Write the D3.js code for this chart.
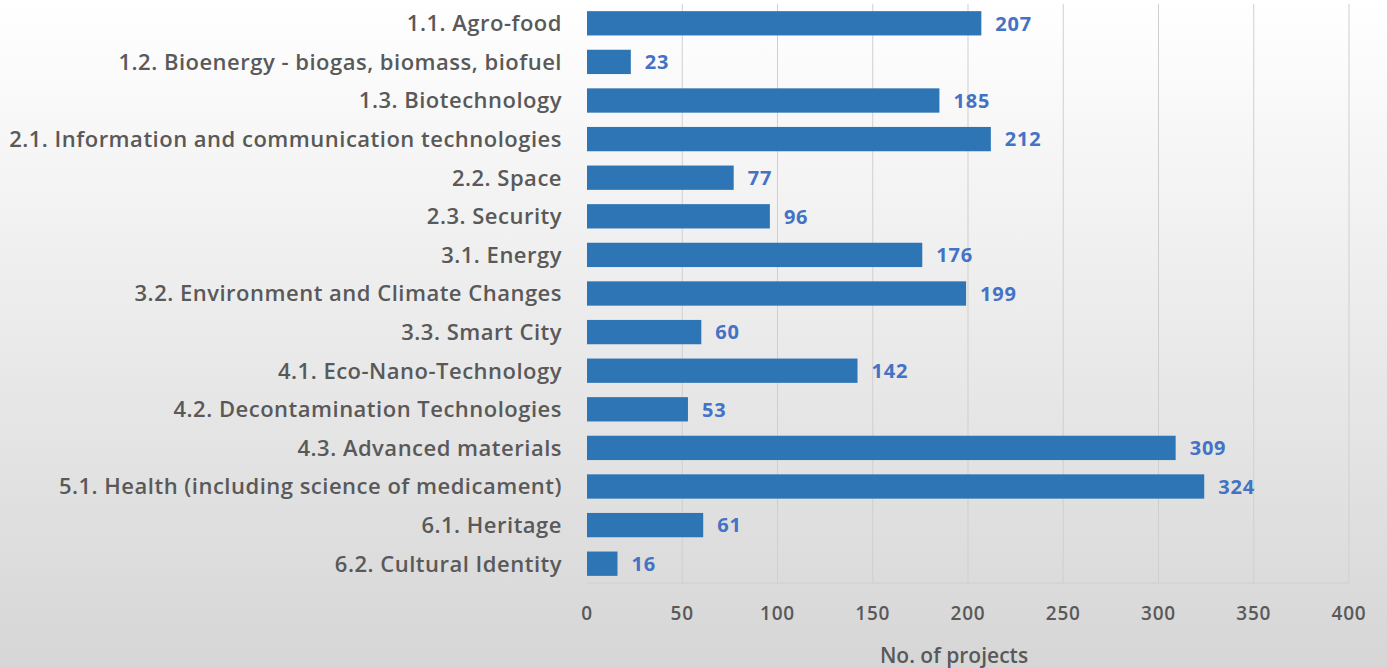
<!DOCTYPE html>
<html>
<head>
<meta charset="utf-8">
<script src="https://cdn.jsdelivr.net/npm/d3@7"></script>
<style>
  html, body { margin: 0; padding: 0; }
  body { width: 1387px; height: 668px; overflow: hidden; }
  text { font-family: "Open Sans", Lato, sans-serif; font-weight: 600; }
</style>
</head>
<body>
<div id="barChart"></div>
<script>
var categories = [
  "1.1. Agro-food",
  "1.2. Bioenergy - biogas, biomass, biofuel",
  "1.3. Biotechnology",
  "2.1. Information and communication technologies",
  "2.2. Space",
  "2.3. Security",
  "3.1. Energy",
  "3.2. Environment and Climate Changes",
  "3.3. Smart City",
  "4.1. Eco-Nano-Technology",
  "4.2. Decontamination Technologies",
  "4.3. Advanced materials",
  "5.1. Health (including science of medicament)",
  "6.1. Heritage",
  "6.2. Cultural Identity"
];
var projects = [207, 23, 185, 212, 77, 96, 176, 199, 60, 142, 53, 309, 324, 61, 16];
var xTicks = [0, 50, 100, 150, 200, 250, 300, 350, 400];
var xTitle = "No. of projects";

function drawBarChart(){
  var W = 1387, H = 668;
  var margin = {top: 4, right: 38, bottom: 85, left: 587},
    width = W - margin.left - margin.right,
    height = H - margin.top - margin.bottom;

  var root = d3.select("#barChart").append("svg")
      .attr("width", W)
      .attr("height", H);

  var grad = root.append("defs").append("linearGradient")
      .attr("id", "bg").attr("x1", 0).attr("y1", 0).attr("x2", 0).attr("y2", 1);
  grad.append("stop").attr("offset", "0%").attr("stop-color", "#ffffff");
  grad.append("stop").attr("offset", "100%").attr("stop-color", "#d6d6d6");
  root.append("rect").attr("width", W).attr("height", H).attr("fill", "url(#bg)");

  var svg = root.append("g")
      .attr("transform", "translate(" + margin.left + "," + margin.top + ")");

  var x = d3.scaleLinear()
      .domain([0, 400])
      .range([0, width]);

  var y = d3.scaleBand()
      .domain(categories)
      .range([0, height])
      .paddingInner(0.37)
      .paddingOuter(0.185);

  // gridlines
  svg.selectAll(".grid")
      .data(xTicks.slice(1))
    .enter().append("line")
      .attr("x1", function(d){ return x(d); })
      .attr("x2", function(d){ return x(d); })
      .attr("y1", 0)
      .attr("y2", height)
      .attr("stroke", "#cfcfcf")
      .attr("stroke-width", 1);

  svg.append("line")
      .attr("x1", 0).attr("x2", width)
      .attr("y1", height).attr("y2", height)
      .attr("stroke", "#cfcfcf")
      .attr("stroke-width", 1);

  svg.selectAll(".bar")
      .data(projects)
    .enter().append("rect")
      .attr("class", "bar")
      .attr("x", x(0))
      .attr("y", function(d, i){ return y(categories[i]); })
      .attr("width", function(d){ return x(d) - x(0); })
      .attr("height", y.bandwidth())
      .attr("fill", "#2e75b6");

  svg.selectAll(".val")
      .data(projects)
    .enter().append("text")
      .attr("x", function(d){ return x(d) + 14; })
      .attr("y", function(d, i){ return y(categories[i]) + y.bandwidth() / 2; })
      .attr("dy", "0.36em")
      .attr("fill", "#4472c4")
      .style("font-size", "20px")
      .style("font-weight", "700")
      .style("letter-spacing", "0.8px")
      .text(function(d){ return d; });

  svg.selectAll(".cat")
      .data(categories)
    .enter().append("text")
      .attr("x", -25)
      .attr("y", function(d){ return y(d) + y.bandwidth() / 2; })
      .attr("dy", "0.36em")
      .attr("text-anchor", "end")
      .attr("fill", "#595959")
      .style("font-size", "22px")
      .style("letter-spacing", "0.5px")
      .text(function(d){ return d; });

  svg.selectAll(".tick")
      .data(xTicks)
    .enter().append("text")
      .attr("x", function(d){ return x(d); })
      .attr("y", height + 30)
      .attr("dy", "0.36em")
      .attr("text-anchor", "middle")
      .attr("fill", "#595959")
      .style("font-size", "19px")
      .style("letter-spacing", "0.8px")
      .text(function(d){ return d; });

  svg.append("text")
      .attr("x", width / 2 - 14)
      .attr("y", height + 72)
      .attr("dy", "0.36em")
      .attr("text-anchor", "middle")
      .attr("fill", "#595959")
      .style("font-size", "21px")
      .text(xTitle);
}

drawBarChart();
</script>
</body>
</html>
